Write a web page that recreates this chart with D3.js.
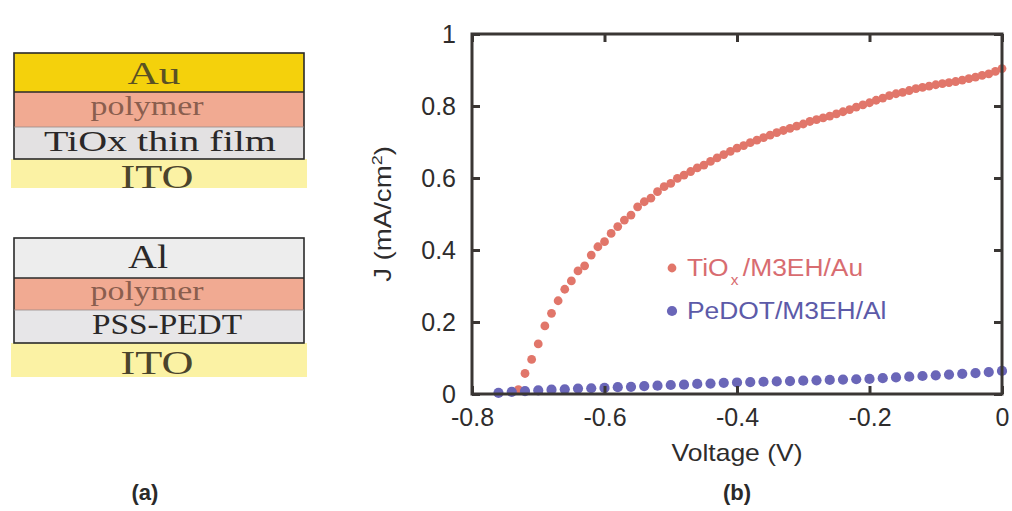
<!DOCTYPE html>
<html>
<head>
<meta charset="utf-8">
<script src="https://cdn.jsdelivr.net/npm/d3@7"></script>
<style>
  html, body { margin: 0; padding: 0; background: #ffffff; }
  svg { display: block; }
</style>
</head>
<body>
<svg id="fig" width="1012" height="511"></svg>
<script>
// ---- data: device stacks (top to bottom) ----
const stackTiO = ["Au", "polymer", "TiOx thin film", "ITO"];
const stackPedot = ["Al", "polymer", "PSS-PEDT", "ITO"];

// ---- data: J–V curves ----
const tioVoltage = [
  -0.73, -0.72, -0.71, -0.70, -0.69, -0.68, -0.67, -0.66, -0.65, -0.64,
  -0.63, -0.62, -0.61, -0.60, -0.59, -0.58, -0.57, -0.56, -0.55, -0.54,
  -0.53, -0.52, -0.51, -0.50, -0.49, -0.48, -0.47, -0.46, -0.45, -0.44,
  -0.43, -0.42, -0.41, -0.40, -0.39, -0.38, -0.37, -0.36, -0.35, -0.34,
  -0.33, -0.32, -0.31, -0.30, -0.29, -0.28, -0.27, -0.26, -0.25, -0.24,
  -0.23, -0.22, -0.21, -0.20, -0.19, -0.18, -0.17, -0.16, -0.15, -0.14,
  -0.13, -0.12, -0.11, -0.10, -0.09, -0.08, -0.07, -0.06, -0.05, -0.04,
  -0.03, -0.02, -0.01, 0.00
];
const tioCurrent = [
  0.012, 0.057, 0.096, 0.139, 0.189, 0.224, 0.259, 0.291, 0.314, 0.342,
  0.356, 0.386, 0.409, 0.423, 0.446, 0.465, 0.483, 0.497, 0.520, 0.534,
  0.544, 0.562, 0.576, 0.585, 0.599, 0.608, 0.618, 0.628, 0.636, 0.646,
  0.656, 0.665, 0.674, 0.683, 0.690, 0.698, 0.705, 0.712, 0.719, 0.726,
  0.732, 0.738, 0.744, 0.750, 0.757, 0.762, 0.767, 0.772, 0.778, 0.784,
  0.790, 0.797, 0.803, 0.809, 0.816, 0.822, 0.829, 0.834, 0.838, 0.843,
  0.848, 0.852, 0.855, 0.859, 0.862, 0.865, 0.868, 0.872, 0.876, 0.880,
  0.885, 0.889, 0.896, 0.904
];
const pedotVoltage = [
  -0.76, -0.74, -0.72, -0.70, -0.68, -0.66, -0.64, -0.62, -0.60, -0.58,
  -0.56, -0.54, -0.52, -0.50, -0.48, -0.46, -0.44, -0.42, -0.40, -0.38,
  -0.36, -0.34, -0.32, -0.30, -0.28, -0.26, -0.24, -0.22, -0.20, -0.18,
  -0.16, -0.14, -0.12, -0.10, -0.08, -0.06, -0.04, -0.02, 0.00
];
const pedotCurrent = [
  0.003, 0.006, 0.008, 0.010, 0.012, 0.013, 0.015, 0.016, 0.017, 0.019,
  0.020, 0.022, 0.023, 0.025, 0.026, 0.028, 0.029, 0.031, 0.032, 0.033,
  0.034, 0.035, 0.036, 0.037, 0.038, 0.039, 0.040, 0.041, 0.042, 0.044,
  0.046, 0.048, 0.050, 0.052, 0.054, 0.056, 0.058, 0.061, 0.064
];
const xTicks = [-0.8, -0.6, -0.4, -0.2, 0];
const yTicks = [0, 0.2, 0.4, 0.6, 0.8, 1];
const xTickLabels = ["-0.8", "-0.6", "-0.4", "-0.2", "0"];
const yTickLabels = ["0", "0.2", "0.4", "0.6", "0.8", "1"];

const svg = d3.select("#fig");

// ---------------- panel (a): layer stacks ----------------
const layerFill = {
  "Au": "#f4d10c", "polymer": "#f1aa92", "TiOx thin film": "#e3e1e2",
  "ITO": "#fbf2a4", "Al": "#ededed", "PSS-PEDT": "#e7e6e8"
};
const layerText = {
  "Au": "#5a5124", "polymer": "#8a5e4e", "TiOx thin film": "#2a2828",
  "ITO": "#4a442c", "Al": "#2a2828", "PSS-PEDT": "#2a2828"
};

function drawStack(names, bands, labels) {
  const g = svg.append("g");
  const x0 = 14, x1 = 304;
  names.forEach((name, i) => {
    const [y0, y1] = bands[i];
    const itoPad = name === "ITO" ? 3 : 0;
    g.append("rect")
      .attr("x", x0 - itoPad).attr("y", y0)
      .attr("width", x1 - x0 + 2 * itoPad).attr("height", y1 - y0)
      .attr("fill", layerFill[name]);
  });
  names.forEach((name, i) => {
    const lb = labels[i];
    g.append("text")
      .attr("x", lb.cx).attr("y", lb.base)
      .attr("text-anchor", "middle")
      .attr("font-family", "Liberation Serif, Times New Roman, serif")
      .attr("font-size", lb.size)
      .attr("textLength", lb.w)
      .attr("lengthAdjust", "spacingAndGlyphs")
      .attr("fill", layerText[name])
      .text(name);
  });
  // outline around the three upper layers
  const yTop = bands[0][0], yBot = bands[2][1];
  const line = "#2a2a2a";
  g.append("rect").attr("x", x0).attr("y", yTop)
    .attr("width", x1 - x0).attr("height", yBot - yTop)
    .attr("fill", "none").attr("stroke", line).attr("stroke-width", 1.6);
  g.append("line").attr("x1", x0).attr("x2", x1)
    .attr("y1", bands[0][1]).attr("y2", bands[0][1])
    .attr("stroke", line).attr("stroke-width", 1.6);
  g.append("line").attr("x1", x0).attr("x2", x1)
    .attr("y1", bands[1][1]).attr("y2", bands[1][1])
    .attr("stroke", "#9a8a88").attr("stroke-width", 0.8);
}

drawStack(stackTiO,
  [[53, 92], [92, 127], [127, 159], [159, 188]],
  [
    { cx: 154, base: 84, size: 32, w: 53 },
    { cx: 147, base: 115, size: 28, w: 113 },
    { cx: 160, base: 151, size: 30, w: 232 },
    { cx: 157, base: 188, size: 33, w: 73 }
  ]);

drawStack(stackPedot,
  [[238, 278], [278, 310], [310, 343], [343, 377]],
  [
    { cx: 148, base: 268, size: 33, w: 40 },
    { cx: 147, base: 300, size: 28, w: 113 },
    { cx: 167, base: 334, size: 30, w: 150 },
    { cx: 157, base: 374, size: 33, w: 73 }
  ]);

// ---------------- panel (b): J–V plot ----------------
const x = d3.scaleLinear().domain([-0.8, 0]).range([472, 1002]);
const y = d3.scaleLinear().domain([0, 1]).range([394, 34]);
const frameColor = "#3a3634";
const sans = "Liberation Sans, Arial, Helvetica, sans-serif";

const plot = svg.append("g");

// series
const tio = tioVoltage.map((v, i) => ({ v, j: tioCurrent[i] }));
const pedot = pedotVoltage.map((v, i) => ({ v, j: pedotCurrent[i] }));

plot.append("g").selectAll("circle").data(tio).join("circle")
  .attr("cx", d => x(d.v)).attr("cy", d => y(d.j)).attr("r", 4.4)
  .attr("fill", "#e1766a");

plot.append("g").selectAll("circle").data(pedot).join("circle")
  .attr("cx", d => x(d.v)).attr("cy", d => y(d.j)).attr("r", 5.1)
  .attr("fill", "#6a66b8");

// axes with inward ticks on all four sides
function styleAxis(g) {
  g.selectAll(".domain").remove();
  g.selectAll(".tick line").attr("stroke", frameColor).attr("stroke-width", 3);
  g.selectAll(".tick text").attr("fill", "#2e2c2c")
    .attr("font-family", sans).attr("font-size", 25);
}

plot.append("g").attr("transform", `translate(0,${y(0)})`)
  .call(d3.axisBottom(x).tickValues(xTicks).tickSizeInner(-8).tickSizeOuter(0)
    .tickPadding(14).tickFormat((d, i) => xTickLabels[i]))
  .call(styleAxis);
plot.append("g").attr("transform", `translate(0,${y(1)})`)
  .call(d3.axisTop(x).tickValues(xTicks).tickSizeInner(-8).tickSizeOuter(0)
    .tickFormat(""))
  .call(styleAxis);
plot.append("g").attr("transform", `translate(${x(-0.8)},0)`)
  .call(d3.axisLeft(y).tickValues(yTicks).tickSizeInner(-8).tickSizeOuter(0)
    .tickPadding(16).tickFormat((d, i) => yTickLabels[i]))
  .call(styleAxis);
plot.append("g").attr("transform", `translate(${x(0)},0)`)
  .call(d3.axisRight(y).tickValues(yTicks).tickSizeInner(-8).tickSizeOuter(0)
    .tickFormat(""))
  .call(styleAxis);

// frame
plot.append("rect")
  .attr("x", x(-0.8)).attr("y", y(1))
  .attr("width", x(0) - x(-0.8)).attr("height", y(0) - y(1))
  .attr("fill", "none").attr("stroke", frameColor).attr("stroke-width", 3);

// axis titles
svg.append("text")
  .attr("x", (x(-0.8) + x(0)) / 2).attr("y", 461)
  .attr("text-anchor", "middle").attr("font-family", sans)
  .attr("font-size", 24).attr("fill", "#2e2c2c")
  .attr("textLength", 131).attr("lengthAdjust", "spacingAndGlyphs")
  .text("Voltage (V)");

const yTitle = svg.append("text")
  .attr("transform", `translate(391,${(y(0) + y(1)) / 2}) rotate(-90) scale(1.2,1)`)
  .attr("text-anchor", "middle").attr("font-family", sans)
  .attr("font-size", 23).attr("fill", "#2e2c2c");
yTitle.append("tspan").text("J (mA/cm");
yTitle.append("tspan").attr("font-size", 15).attr("dy", -9).text("2");
yTitle.append("tspan").attr("dy", 9).text(")");

// legend
const legend = svg.append("g").attr("font-family", sans).attr("font-size", 24);
legend.append("circle").attr("cx", 672).attr("cy", 268).attr("r", 4.4).attr("fill", "#e1766a");
legend.append("circle").attr("cx", 672).attr("cy", 311).attr("r", 5.1).attr("fill", "#6a66b8");
const legendText = legend.append("g")
  .attr("transform", "translate(687,0) scale(1.1,1)");
const t1 = legendText.append("text").attr("x", 0).attr("y", 276).attr("fill", "#d86c70");
t1.append("tspan").text("TiO");
t1.append("tspan").attr("font-size", 14).attr("dx", 2).attr("dy", 9).text("x");
t1.append("tspan").attr("dx", 4).attr("dy", -9).text("/M3EH/Au");
legendText.append("text").attr("x", 0).attr("y", 319).attr("fill", "#5c5aa8")
  .text("PeDOT/M3EH/Al");

// panel captions
svg.append("text").attr("x", 145).attr("y", 500).attr("text-anchor", "middle")
  .attr("font-family", sans).attr("font-weight", "bold").attr("font-size", 22)
  .attr("fill", "#2a2a2a").text("(a)");
svg.append("text").attr("x", 737).attr("y", 500).attr("text-anchor", "middle")
  .attr("font-family", sans).attr("font-weight", "bold").attr("font-size", 22)
  .attr("fill", "#2a2a2a").text("(b)");
</script>
</body>
</html>
